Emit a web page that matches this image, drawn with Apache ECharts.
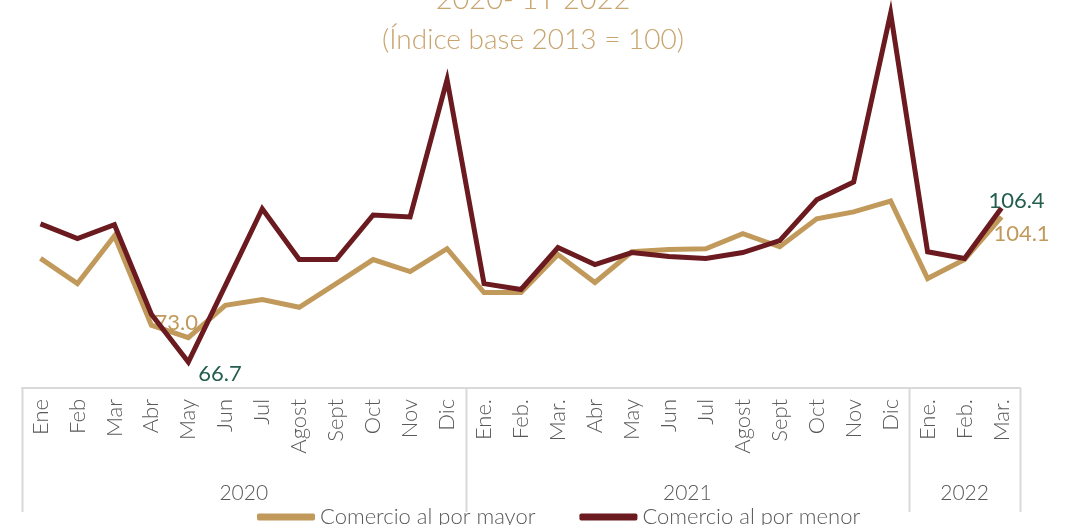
<!DOCTYPE html>
<html>
<head>
<meta charset="utf-8">
<script src="https://cdn.jsdelivr.net/npm/echarts@6/dist/echarts.min.js"></script>
<style>
html,body{margin:0;padding:0;background:#fff;}
#chart{width:1066px;height:525px;}
</style>
</head>
<body>
<div id="chart"></div>
<script>
const months = ['Ene','Feb','Mar','Abr','May','Jun','Jul','Agost','Sept','Oct','Nov','Dic',
  'Ene.','Feb.','Mar.','Abr','May','Jun','Jul','Agost','Sept','Oct','Nov','Dic',
  'Ene.','Feb.','Mar.'];
const years = ['2020','2021','2022'];
const yearSpans = [12, 12, 3];
const mayor = [93.4,86.9,99.2,76.2,73.0,81.3,82.8,80.8,86.9,93.1,90.0,95.9,
  84.6,84.6,94.4,87.2,95.1,95.7,95.9,99.8,96.4,103.6,105.4,108.2,
  88.2,93.1,104.1];
const menor = [102.3,98.5,102.1,79.0,66.7,86.4,106.2,93.1,93.1,104.6,104.1,139.5,
  86.9,85.4,96.2,91.8,94.9,93.9,93.4,94.9,98.0,108.5,113.1,156.6,
  95.1,93.4,106.4];
const seriesNames = ['Comercio al por mayor','Comercio al por menor'];
const titleText = '2020- 1T 2022';
const subtitleText = '(Índice base 2013 = 100)';

const TAN = '#C19A5B';
const WINE = '#6B1A1F';
const GREEN = '#245E4F';
const GREY = '#595959';
const FONT = 'Lato';

function withLabels(arr, labels) {
  return arr.map((v, i) => labels[i] ? {value: v, label: labels[i]} : v);
}

const mayorLabels = {};
mayorLabels[4] = {show: true, position: 'top', offset: [-12, 1], color: TAN};
mayorLabels[26] = {show: true, position: 'bottom', offset: [20, 1], color: TAN};
const menorLabels = {};
menorLabels[4] = {show: true, position: 'right', offset: [5, 12], color: GREEN};
menorLabels[26] = {show: true, position: 'top', offset: [15, 9], color: GREEN};

const chart = echarts.init(document.getElementById('chart'), null, {renderer: 'canvas'});
const labelBase = {fontFamily: FONT, fontSize: 22, fontWeight: 400, formatter: p => p.value.toFixed(1)};

chart.setOption({
  animation: false,
  backgroundColor: '#fff',
  title: [
    {text: titleText, left: 'center', top: -20,
     textStyle: {fontFamily: FONT, fontSize: 29, fontWeight: 300, color: '#C8A46E'}},
    {text: subtitleText, left: 'center', top: 21,
     textStyle: {fontFamily: FONT, fontSize: 28, fontWeight: 300, color: '#C8A46E'}}
  ],
  grid: {left: 22, right: 46, top: -2, bottom: 137, containLabel: false},
  legend: {
    left: 252, top: 501, itemGap: 44, itemWidth: 58, itemHeight: 7, icon: 'roundRect',
    textStyle: {fontFamily: FONT, fontSize: 22, fontWeight: 300, color: GREY},
    data: seriesNames
  },
  xAxis: {
    type: 'category', data: months, boundaryGap: true,
    axisLine: {show: true, lineStyle: {color: '#D9D9D9', width: 2}},
    axisTick: {show: false},
    axisLabel: {rotate: 90, margin: 11, interval: 0, color: GREY,
      fontFamily: FONT, fontSize: 22, fontWeight: 300}
  },
  yAxis: {type: 'value', min: 60, max: 160, show: false, splitLine: {show: false}},
  series: [
    {name: seriesNames[0], type: 'line', data: withLabels(mayor, mayorLabels),
     symbol: 'circle', symbolSize: 0, showSymbol: true,
     lineStyle: {color: TAN, width: 5, join: 'miter'}, itemStyle: {color: TAN},
     label: Object.assign({show: false}, labelBase), z: 2},
    {name: seriesNames[1], type: 'line', data: withLabels(menor, menorLabels),
     symbol: 'circle', symbolSize: 0, showSymbol: true,
     lineStyle: {color: WINE, width: 5, join: 'miter'}, itemStyle: {color: WINE},
     label: Object.assign({show: false}, labelBase), z: 3}
  ]
});

// multi-level category axis: year groups
const c0 = chart.convertToPixel({xAxisIndex: 0}, 0);
const c1 = chart.convertToPixel({xAxisIndex: 0}, 1);
const band = c1 - c0;
const axisY = chart.convertToPixel({yAxisIndex: 0}, 60);
const graphics = [];
let start = 0;
const bounds = [0];
yearSpans.forEach(s => { start += s; bounds.push(start); });
bounds.forEach(b => {
  const x = Math.round(c0 - band / 2 + b * band) + 0.5;
  graphics.push({type: 'line', silent: true,
    shape: {x1: x, y1: axisY, x2: x, y2: 512},
    style: {stroke: '#D9D9D9', lineWidth: 2}});
});
years.forEach((y, i) => {
  const xc = c0 - band / 2 + (bounds[i] + bounds[i + 1]) / 2 * band;
  graphics.push({type: 'text', silent: true, x: xc, y: 493,
    style: {text: y, fill: GREY, font: '300 21px ' + FONT, textAlign: 'center', textVerticalAlign: 'middle'}});
});
chart.setOption({graphic: graphics});
</script>
</body>
</html>
